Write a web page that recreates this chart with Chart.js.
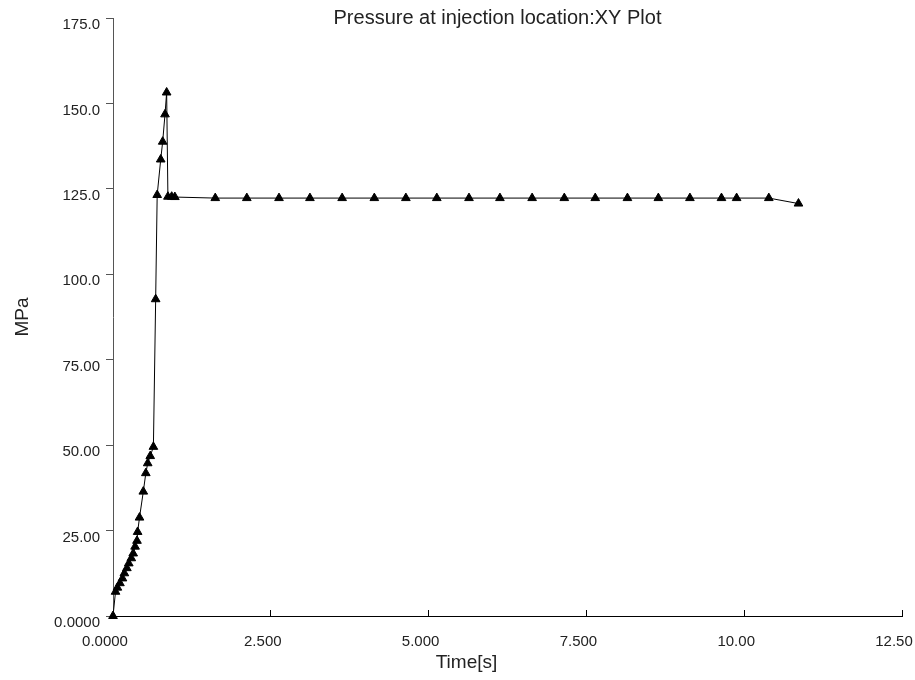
<!DOCTYPE html>
<html><head><meta charset="utf-8">
<script src="https://cdn.jsdelivr.net/npm/chart.js@4/dist/chart.umd.min.js"></script>
<style>html,body{margin:0;padding:0;background:#fff}#wrap{width:915px;height:680px}</style>
</head><body><div id="wrap"><canvas id="c" width="915" height="680"></canvas></div>
<script>
const chartTitle = "Pressure at injection location:XY Plot";
const xAxisTitle = "Time[s]";
const yAxisTitle = "MPa";
const timeValues = [0, 0.04, 0.07, 0.11, 0.15, 0.18, 0.22, 0.25, 0.29, 0.32, 0.35, 0.38, 0.39, 0.42, 0.48, 0.52, 0.55, 0.59, 0.64, 0.676, 0.70, 0.756, 0.787, 0.824, 0.85, 0.87, 0.93, 0.98,
  1.62, 2.12, 2.63, 3.12, 3.63, 4.14, 4.64, 5.13, 5.64, 6.13, 6.64, 7.15, 7.64, 8.15, 8.64, 9.14, 9.64, 9.88, 10.39, 10.86];
const pressureValues = [0, 7.1, 8.3, 9.6, 11.0, 12.5, 14.0, 15.4, 16.9, 18.3, 20.3, 22.0, 24.6, 28.8, 36.4, 41.8, 44.7, 46.8, 49.5, 92.7, 123.2, 133.6, 138.8, 146.8, 153.2, 122.7, 122.7, 122.6,
  122.3, 122.3, 122.3, 122.3, 122.3, 122.3, 122.3, 122.3, 122.3, 122.3, 122.3, 122.3, 122.3, 122.3, 122.3, 122.3, 122.3, 122.3, 122.3, 120.7];
const xTickValues = [0, 2.5, 5, 7.5, 10, 12.5];
const xTickLabels = ["0.0000", "2.500", "5.000", "7.500", "10.00", "12.50"];
const yTickValues = [0, 25, 50, 75, 100, 125, 150, 175];
const yTickLabels = ["0.0000", "25.00", "50.00", "75.00", "100.0", "125.0", "150.0", "175.0"];

const FONT = '"Liberation Sans", Arial, sans-serif';
const textPlugin = {
  id: 'textPlugin',
  afterDraw(chart) {
    const ctx = chart.ctx, a = chart.chartArea;
    const cx = (a.left + a.right) / 2;
    ctx.save();
    ctx.fillStyle = '#222';
    ctx.textAlign = 'center';
    ctx.textBaseline = 'middle';
    ctx.font = '20px ' + FONT;
    ctx.fillText(chartTitle, cx - 10, 18);
    ctx.font = '19px ' + FONT;
    ctx.fillText(xAxisTitle, cx - 41, 663);
    ctx.restore();
  }
};

new Chart(document.getElementById('c'), {
  type: 'line',
  data: {
    datasets: [{
      data: timeValues.map((t, i) => ({x: t, y: pressureValues[i]})),
      borderColor: '#000',
      borderWidth: 1,
      backgroundColor: '#000',
      pointStyle: 'triangle',
      pointRadius: 5,
      pointBorderWidth: 1,
      pointBackgroundColor: '#000',
      pointBorderColor: '#000',
      tension: 0,
      clip: false
    }]
  },
  options: {
    responsive: false,
    animation: false,
    devicePixelRatio: 1,
    layout: {padding: {top: 18, right: 13, bottom: 0, left: 0}},
    plugins: {legend: {display: false}, tooltip: {enabled: false}, title: {display: false}},
    scales: {
      x: {
        type: 'linear', min: 0, max: 12.5,
        border: {color: '#000', width: 1},
        grid: {drawOnChartArea: false, drawTicks: true, tickLength: -6, color: '#000'},
        afterBuildTicks: s => { s.ticks = xTickValues.map(v => ({value: v})); },
        ticks: {font: {size: 15, family: FONT}, color: '#222', padding: 23, labelOffset: -8, autoSkip: false, maxRotation: 0,
          callback: (v, i) => xTickLabels[i]},
        title: {display: false},
        afterFit: s => { s.height = 64; s.paddingLeft = 0; s.paddingRight = 0; }
      },
      y: {
        type: 'linear', min: 0, max: 175,
        border: {color: '#555', width: 1},
        grid: {drawOnChartArea: false, drawTicks: true, tickLength: 7, color: '#555'},
        afterBuildTicks: s => { s.ticks = yTickValues.map(v => ({value: v})); },
        ticks: {font: {size: 15, family: FONT}, color: '#222', padding: 6, labelOffset: 7, autoSkip: false,
          callback: (v, i) => yTickLabels[i]},
        title: {display: true, text: yAxisTitle, color: '#222', font: {size: 19, family: FONT}, padding: {top: 11, bottom: 0}},
        afterFit: s => { s.width = 113; s.paddingTop = 0; s.paddingBottom = 0; }
      }
    }
  },
  plugins: [textPlugin]
});
</script>
</body></html>
